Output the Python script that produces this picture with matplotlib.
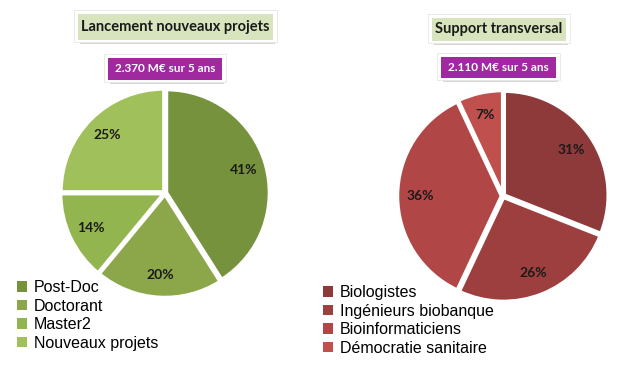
import matplotlib
matplotlib.use("Agg")
import matplotlib.pyplot as plt
from matplotlib.patches import Rectangle, Patch

W, H = 631, 380

left_labels = ["Post-Doc", "Doctorant", "Master2", "Nouveaux projets"]
left_values = [41, 20, 14, 25]
left_colors = ["#76923C", "#8BA74A", "#93B54F", "#A0C05C"]
left_title = "Lancement nouveaux projets"
left_budget = "2.370 M€ sur 5 ans"

right_labels = ["Biologistes", "Ingénieurs biobanque", "Bioinformaticiens", "Démocratie sanitaire"]
right_values = [31, 26, 36, 7]
right_colors = ["#8E3A3A", "#9D3F3F", "#B04746", "#C0504D"]
right_title = "Support transversal"
right_budget = "2.110 M€ sur 5 ans"

fig = plt.figure(figsize=(W/100, H/100), dpi=100)
fig.patch.set_facecolor("white")

def px_axes(cx, cy, r):
    return fig.add_axes([(cx - r)/W, 1 - (cy + r)/H, 2*r/W, 2*r/H])

def draw_pie(cx, cy, r, values, colors):
    ax = px_axes(cx, cy, r)
    wedges, texts, autotexts = ax.pie(
        values, colors=colors, startangle=90, counterclock=False,
        explode=[0.015]*len(values),
        autopct=lambda p: f"{p:.0f}%", pctdistance=0.78,
        wedgeprops=dict(edgecolor="white", linewidth=2.5),
        textprops=dict(fontsize=10, fontweight="bold", color="#1a1a1a", family="Lato"))
    ax.set_xlim(-1.02, 1.02)
    ax.set_ylim(-1.02, 1.02)
    ax.set_aspect("equal")
    ax.axis("off")
    return wedges

def box(x0, y0, x1, y1, fc, text, tc, fs, shadow=True):
    if shadow:
        fig.patches.append(Rectangle(((x0+2)/W, 1-(y1+4)/H), (x1-x0)/W, 5/H,
                                     transform=fig.transFigure, facecolor="#bdbdbd",
                                     edgecolor="none", alpha=0.6, zorder=1))
    fig.patches.append(Rectangle(((x0-4)/W, 1-(y1+2)/H), (x1-x0+8)/W, (y1-y0+6)/H,
                                 transform=fig.transFigure, facecolor="white",
                                 edgecolor="#e6e6e6", linewidth=0.6, zorder=2))
    fig.patches.append(Rectangle((x0/W, 1-y1/H), (x1-x0)/W, (y1-y0)/H,
                                 transform=fig.transFigure, facecolor=fc,
                                 edgecolor="none", zorder=3))
    fig.text((x0+x1)/2/W, 1-(y0+y1)/2/H, text, ha="center", va="center",
             fontsize=fs, fontweight="bold", color=tc, family="Lato", zorder=4)

draw_pie(165, 193, 105, left_values, left_colors)
draw_pie(503, 196, 106, right_values, right_colors)

box(78, 14, 273, 40, "#D7E4BD", left_title, "#1a1a1a", 10.5)
box(108, 58, 222, 80, "#A0299F", left_budget, "white", 8.5)
box(432, 18, 566, 41, "#D7E4BD", right_title, "#1a1a1a", 10.5)
box(441, 57, 556, 78, "#A0299F", right_budget, "white", 8.5)

legkw = dict(loc="upper left", frameon=False, handlelength=0.65, handleheight=0.65,
             handletextpad=0.4, labelspacing=0.22, borderaxespad=0, borderpad=0,
             prop=dict(family="Liberation Sans", size=11.5))
fig.legend([Patch(facecolor=c, edgecolor="none") for c in left_colors], left_labels,
           bbox_to_anchor=(17/W, 1-280/H), **legkw)
fig.legend([Patch(facecolor=c, edgecolor="none") for c in right_colors], right_labels,
           bbox_to_anchor=(323/W, 1-285/H), **legkw)

fig.savefig("out.png", dpi=100, facecolor="white")
